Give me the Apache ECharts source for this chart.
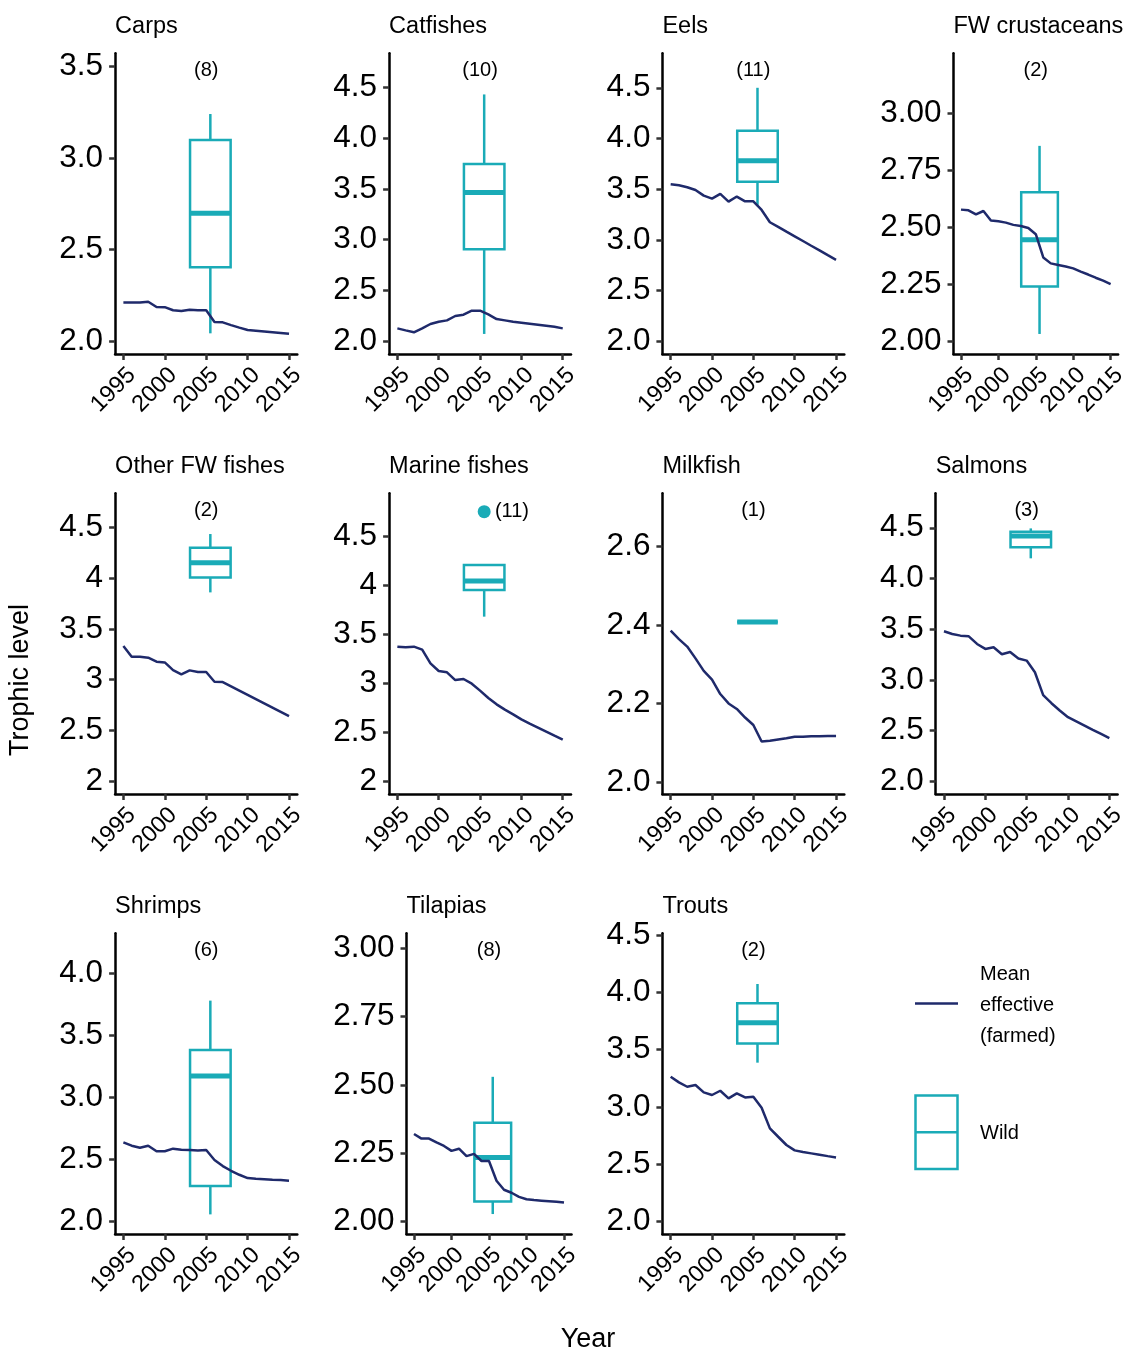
<!DOCTYPE html>
<html>
<head>
<meta charset="utf-8">
<script src="https://cdn.jsdelivr.net/npm/echarts@6/dist/echarts.min.js"></script>
<style>
html,body{margin:0;padding:0;background:#fff;}
#chart{width:1131px;height:1360px;}
</style>
</head>
<body>
<div id="chart"></div>
<script>
// ---------------- DATA ----------------
const years = [1995,1996,1997,1998,1999,2000,2001,2002,2003,2004,2005,2006,2007,2008,2009,2010,2011,2012,2013,2014,2015];
const yearTicks = ['1995','2000','2005','2010','2015'];
const panelNames = ['Carps','Catfishes','Eels','FW crustaceans','Other FW fishes','Marine fishes','Milkfish','Salmons','Shrimps','Tilapias','Trouts'];
const wildCounts = [8,10,11,2,2,11,1,3,6,8,2];

// Mean effective trophic level (farmed), 1995-2015
const carpsFarmed     = [2.210,2.210,2.210,2.215,2.186,2.185,2.168,2.164,2.171,2.168,2.168,2.104,2.102,2.087,2.073,2.060,2.056,2.052,2.048,2.044,2.040];
const catfishesFarmed = [2.125,2.105,2.086,2.125,2.168,2.191,2.204,2.247,2.260,2.300,2.300,2.263,2.217,2.204,2.190,2.180,2.170,2.160,2.150,2.140,2.125];
const eelsFarmed      = [3.549,3.539,3.520,3.493,3.437,3.408,3.454,3.378,3.428,3.381,3.381,3.296,3.175,3.129,3.082,3.036,2.990,2.943,2.897,2.850,2.804];
const fwCrustFarmed   = [2.577,2.574,2.556,2.571,2.529,2.526,2.520,2.510,2.505,2.496,2.469,2.367,2.341,2.334,2.327,2.319,2.305,2.292,2.278,2.265,2.250];
const otherFwFarmed   = [3.332,3.227,3.227,3.217,3.178,3.171,3.095,3.053,3.092,3.076,3.076,2.980,2.977,2.935,2.893,2.851,2.809,2.767,2.725,2.683,2.641];
const marineFarmed    = [3.378,3.371,3.378,3.347,3.207,3.129,3.116,3.037,3.048,3.000,2.929,2.854,2.789,2.735,2.687,2.636,2.592,2.551,2.510,2.469,2.429];
const milkfishFarmed  = [2.386,2.364,2.345,2.315,2.283,2.261,2.224,2.200,2.186,2.164,2.145,2.103,2.105,2.108,2.111,2.115,2.115,2.116,2.116,2.117,2.117];
const salmonsFarmed   = [3.480,3.453,3.437,3.430,3.355,3.306,3.322,3.253,3.276,3.211,3.191,3.076,2.850,2.771,2.699,2.633,2.592,2.551,2.509,2.468,2.427];
const shrimpsFarmed   = [2.639,2.612,2.596,2.612,2.567,2.567,2.588,2.580,2.577,2.574,2.577,2.497,2.448,2.410,2.378,2.351,2.346,2.342,2.338,2.335,2.330];
const tilapiasFarmed  = [2.321,2.304,2.304,2.290,2.277,2.259,2.267,2.240,2.248,2.222,2.222,2.150,2.117,2.106,2.091,2.082,2.079,2.077,2.075,2.073,2.070];
const troutsFarmed    = [3.265,3.215,3.177,3.192,3.128,3.105,3.142,3.076,3.119,3.084,3.090,2.994,2.814,2.741,2.669,2.622,2.608,2.596,2.584,2.572,2.561];

// Wild trophic level box stats: [lower whisker, Q1, median, Q3, upper whisker]
const carpsWild     = [2.042,2.403,2.698,3.099,3.241];
const catfishesWild = [2.070,2.905,3.467,3.747,4.434];
const eelsWild      = [3.346,3.575,3.781,4.077,4.500];
const fwCrustWild   = [2.031,2.239,2.445,2.653,2.857];
const otherFwWild   = [3.862,4.010,4.155,4.303,4.438];
const marineWild    = [3.684,3.956,4.048,4.211,4.211];
const milkfishWild  = [2.408,2.408,2.408,2.408,2.408];
const salmonsWild   = [4.199,4.307,4.420,4.460,4.494];
const shrimpsWild   = [2.059,2.287,3.173,3.383,3.780];
const tilapiasWild  = [2.028,2.074,2.235,2.362,2.530];
const troutsWild    = [3.387,3.555,3.735,3.904,4.073];
const marineWildOutliers = [4.755];

// Y tick labels
const carpsTicks     = ['2.0','2.5','3.0','3.5'];
const catfishesTicks = ['2.0','2.5','3.0','3.5','4.0','4.5'];
const eelsTicks      = ['2.0','2.5','3.0','3.5','4.0','4.5'];
const fwCrustTicks   = ['2.00','2.25','2.50','2.75','3.00'];
const otherFwTicks   = ['2','2.5','3','3.5','4','4.5'];
const marineTicks    = ['2','2.5','3','3.5','4','4.5'];
const milkfishTicks  = ['2.0','2.2','2.4','2.6'];
const salmonsTicks   = ['2.0','2.5','3.0','3.5','4.0','4.5'];
const shrimpsTicks   = ['2.0','2.5','3.0','3.5','4.0'];
const tilapiasTicks  = ['2.00','2.25','2.50','2.75','3.00'];
const troutsTicks    = ['2.0','2.5','3.0','3.5','4.0','4.5'];

const farmedSeries = [carpsFarmed,catfishesFarmed,eelsFarmed,fwCrustFarmed,otherFwFarmed,marineFarmed,milkfishFarmed,salmonsFarmed,shrimpsFarmed,tilapiasFarmed,troutsFarmed];
const wildSeries   = [carpsWild,catfishesWild,eelsWild,fwCrustWild,otherFwWild,marineWild,milkfishWild,salmonsWild,shrimpsWild,tilapiasWild,troutsWild];
const tickSets     = [carpsTicks,catfishesTicks,eelsTicks,fwCrustTicks,otherFwTicks,marineTicks,milkfishTicks,salmonsTicks,shrimpsTicks,tilapiasTicks,troutsTicks];
const outlierSets  = [[],[],[],[],[],marineWildOutliers,[],[],[],[],[]];

// ---------------- LAYOUT / STYLE ----------------
const FONT = "'Liberation Sans', Arial, Helvetica, sans-serif";
const NAVY = '#1f2a6b';
const TEAL = '#1aabb7';
const PH = 300.7;
const layout = [
  {left:115.1, top:53.3,  width:182.2, ymin:1.929, ymax:3.573},
  {left:389.1, top:53.3,  width:181.9, ymin:1.872, ymax:4.840},
  {left:662.4, top:53.3,  width:181.9, ymin:1.876, ymax:4.840},
  {left:953.5, top:53.3,  width:164.6, ymin:1.943, ymax:3.2635},
  {left:115.1, top:493.3, width:182.2, ymin:1.872, ymax:4.840},
  {left:389.1, top:493.3, width:181.9, ymin:1.874, ymax:4.943, countAt:[2006.8, 4.755], countAlign:'left'},
  {left:662.4, top:493.3, width:181.9, ymin:1.969, ymax:2.736},
  {left:935.7, top:493.3, width:181.9, ymin:1.876, ymax:4.840},
  {left:115.1, top:933.3, width:182.2, ymin:1.901, ymax:4.322},
  {left:406.5, top:933.3, width:165.0, ymin:1.955, ymax:3.055},
  {left:662.4, top:933.3, width:181.9, ymin:1.893, ymax:4.515}
];
const BOX_X = 2005.5, BOX_HW = 2.45, COUNT_X = 2005;

const grids = [], xAxes = [], yAxes = [], series = [], graphics = [];

layout.forEach((L, i) => {
  grids.push({left:L.left, top:L.top, width:L.width, height:PH, containLabel:false});
  const xVals = yearTicks.map(Number);
  xAxes.push({
    type:'value', gridIndex:i, min:1994, max:2016,
    splitLine:{show:false},
    axisLine:{show:true, onZero:false, lineStyle:{color:'#000', width:2.5}},
    axisTick:{show:true, length:6, customValues:xVals, lineStyle:{color:'#333', width:2.5}},
    axisLabel:{show:true, customValues:xVals, rotate:45, margin:9, fontSize:23.5, color:'#000', fontFamily:FONT,
      align:'right', verticalAlign:'top',
      formatter:(v)=>String(Math.round(v))}
  });
  const ticks = tickSets[i];
  const yVals = ticks.map(Number);
  yAxes.push({
    type:'value', gridIndex:i, min:L.ymin, max:L.ymax,
    splitLine:{show:false},
    axisLine:{show:true, onZero:false, lineStyle:{color:'#000', width:2.5}},
    axisTick:{show:true, length:6, customValues:yVals, lineStyle:{color:'#333', width:2.5}},
    axisLabel:{show:true, customValues:yVals, margin:12, fontSize:31.5, color:'#000', fontFamily:FONT,
      formatter:(v)=>{ const t = ticks.find(s => Math.abs(parseFloat(s)-v) < 1e-6); return t === undefined ? '' : t; }}
  });

  // wild boxplot (custom, drawn through axis scales)
  const w = wildSeries[i];
  series.push({
    type:'custom', xAxisIndex:i, yAxisIndex:i, z:2, silent:true,
    data:[[BOX_X, w[0], w[1], w[2], w[3], w[4], BOX_HW]],
    encode:{x:0, y:[1,2,3,4,5]},
    renderItem:(params, api) => {
      const xc = api.value(0), hw = api.value(6);
      const low = api.value(1), q1 = api.value(2), med = api.value(3), q3 = api.value(4), high = api.value(5);
      const pLow = api.coord([xc, low]), pHigh = api.coord([xc, high]);
      const pQ1 = api.coord([xc, q1]), pQ3 = api.coord([xc, q3]);
      const pLeft = api.coord([xc - hw, q1]), pRight = api.coord([xc + hw, q3]);
      const pMed = api.coord([xc, med]);
      const st = {stroke:TEAL, lineWidth:2.5, fill:'none'};
      return {type:'group', children:[
        {type:'line', shape:{x1:pLow[0], y1:pLow[1], x2:pQ1[0], y2:pQ1[1]}, style:st},
        {type:'line', shape:{x1:pQ3[0], y1:pQ3[1], x2:pHigh[0], y2:pHigh[1]}, style:st},
        {type:'rect', shape:{x:pLeft[0], y:pRight[1], width:pRight[0]-pLeft[0], height:pLeft[1]-pRight[1]}, style:st},
        {type:'line', shape:{x1:pLeft[0], y1:pMed[1], x2:pRight[0], y2:pMed[1]}, style:{stroke:TEAL, lineWidth:5, fill:'none'}}
      ]};
    }
  });

  // outliers
  if (outlierSets[i].length) {
    series.push({
      type:'scatter', xAxisIndex:i, yAxisIndex:i, z:3, silent:true,
      symbol:'circle', symbolSize:13, itemStyle:{color:TEAL, opacity:1},
      data: outlierSets[i].map(v => [BOX_X, v])
    });
  }

  // count label "(n)"
  const cAt = L.countAt || [COUNT_X, L.ymax];
  const cAlign = L.countAlign || 'center';
  const cOffset = L.countAt ? 0 : 17;
  series.push({
    type:'custom', xAxisIndex:i, yAxisIndex:i, z:4, silent:true,
    data:[[cAt[0], cAt[1]]],
    renderItem:(params, api) => {
      const p = api.coord([api.value(0), api.value(1)]);
      return {type:'text', x:p[0], y:p[1] + cOffset,
        style:{text:'(' + wildCounts[i] + ')', fill:'#000', fontSize:20, fontFamily:FONT, align:cAlign, verticalAlign:'middle'}};
    }
  });

  // farmed line
  const f = farmedSeries[i];
  series.push({
    type:'line', xAxisIndex:i, yAxisIndex:i, z:5, silent:true,
    symbol:'none', showSymbol:false,
    lineStyle:{color:NAVY, width:2.5},
    data: years.map((y, k) => [y, f[k]])
  });

  // facet title
  graphics.push({type:'text', x:L.left, y:L.top - 27,
    style:{text:panelNames[i], fill:'#000', fontSize:23.5, fontFamily:FONT, align:'left', verticalAlign:'middle'}});
});

// axis titles
graphics.push({type:'text', x:588, y:1340, style:{text:'Year', fill:'#000', fontSize:27, fontFamily:FONT, align:'center', verticalAlign:'middle'}});
graphics.push({type:'text', x:21, y:680, rotation:Math.PI/2, style:{text:'Trophic level', fill:'#000', fontSize:27, fontFamily:FONT, align:'center', verticalAlign:'middle'}});

// legend
graphics.push({type:'line', shape:{x1:915, y1:1003.5, x2:958, y2:1003.5}, style:{stroke:NAVY, lineWidth:2.5}});
graphics.push({type:'text', x:980, y:974, style:{text:'Mean', fill:'#000', fontSize:20, fontFamily:FONT, align:'left', verticalAlign:'middle'}});
graphics.push({type:'text', x:980, y:1005.5, style:{text:'effective', fill:'#000', fontSize:20, fontFamily:FONT, align:'left', verticalAlign:'middle'}});
graphics.push({type:'text', x:980, y:1036.5, style:{text:'(farmed)', fill:'#000', fontSize:20, fontFamily:FONT, align:'left', verticalAlign:'middle'}});
graphics.push({type:'rect', shape:{x:915.5, y:1095.5, width:42, height:73.5}, style:{stroke:TEAL, lineWidth:2.5, fill:'none'}});
graphics.push({type:'line', shape:{x1:915.5, y1:1132.3, x2:957.5, y2:1132.3}, style:{stroke:TEAL, lineWidth:2.5}});
graphics.push({type:'text', x:980, y:1133.5, style:{text:'Wild', fill:'#000', fontSize:20, fontFamily:FONT, align:'left', verticalAlign:'middle'}});

const chart = echarts.init(document.getElementById('chart'), null, {renderer:'canvas'});
chart.setOption({
  animation:false,
  backgroundColor:'#ffffff',
  grid:grids, xAxis:xAxes, yAxis:yAxes, series:series,
  graphic:{elements:graphics}
});
</script>
</body>
</html>
